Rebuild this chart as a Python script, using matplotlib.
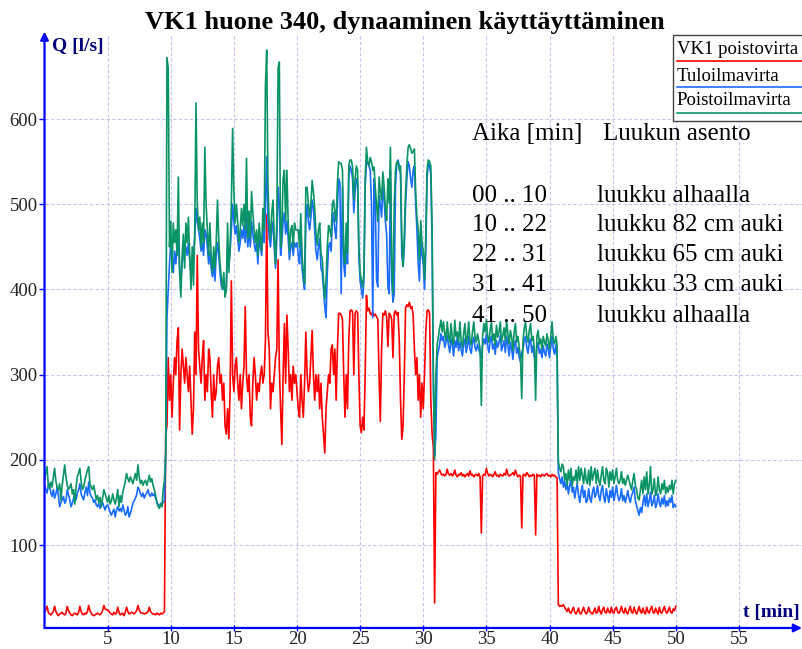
import numpy as np
import matplotlib
matplotlib.use("Agg")
import matplotlib.pyplot as plt
from matplotlib.lines import Line2D
from matplotlib.patches import Rectangle

plt.rcParams['font.family'] = ['Liberation Serif', 'DejaVu Serif']

# sample interval [min]
dt = 0.1

# VK1 poistovirta (red)
vk1 = [
    22, 24, 28, 21, 19, 18, 20, 22, 28, 22, 19, 17, 19, 20, 21, 19, 18, 20, 28, 23,
    20, 18, 17, 19, 20, 19, 18, 21, 28, 22, 19, 18, 20, 19, 22, 29, 23, 20, 18, 17,
    18, 19, 20, 19, 18, 20, 23, 29, 25, 24, 24, 22, 20, 19, 18, 21, 19, 20, 27, 21,
    18, 19, 20, 17, 21, 27, 22, 19, 20, 21, 20, 19, 21, 23, 29, 24, 21, 20, 20, 19,
    20, 20, 22, 27, 22, 20, 19, 19, 18, 20, 19, 18, 20, 19, 20, 22,
    230, 240, 320, 270,
    300, 250, 290, 320, 300, 340, 355, 235, 300, 330,
    310, 290, 320, 300, 280, 310, 270, 230, 260, 350,
    300, 440, 330, 310, 290, 320, 340, 270, 300, 280,
    330, 320, 280, 250, 300, 270, 280, 310, 320, 290,
    300, 270, 290, 240, 230, 260, 225, 280, 410, 300,
    280, 310, 320, 290, 270, 300, 260, 290, 310, 380,
    300, 280, 300, 250, 240, 290, 320, 300, 270, 290,
    280, 300, 310, 290, 300, 340, 488, 350, 330, 260,
    290, 280, 300, 320, 330, 435, 310, 260, 218, 300,
    360, 290, 370, 330, 280, 300, 270, 310, 290, 300,
    280, 260, 250, 300, 270, 250, 290, 350, 300, 280,
    290, 320, 352, 300, 270, 300, 280, 300, 260, 290,
    250, 230, 208, 260, 280, 300, 290, 330, 335, 300,
    330, 270, 330, 372, 372, 370, 365, 300, 250, 300,
    260, 340, 375, 376, 374, 300, 372, 375, 373, 300,
    240, 232, 250, 235, 300, 393, 375, 378, 372, 370,
    374, 369, 371, 368, 365, 300, 245, 330, 372, 370,
    375, 368, 333, 372, 370, 365, 320, 372, 375, 370,
    373, 340, 270, 224, 240, 300, 378, 382, 380, 385,
    378, 380, 370, 330, 300, 320, 270, 300, 250, 290,
    260, 300, 350, 375, 376, 372, 270, 230, 215, 32,
    185, 183, 186, 188, 184, 182, 183, 181, 183, 189,
    183, 182, 184, 181, 183, 188, 182, 180, 183, 182,
    185, 181, 183, 180, 182, 184, 181, 187, 182, 183,
    180, 182, 183, 181, 184, 180, 114, 181, 183, 182,
    190, 184, 181, 183, 182, 180, 183, 186, 181, 182,
    180, 183, 182, 181, 184, 182, 189, 183, 181, 182,
    183, 185, 182, 188, 183, 180, 182, 181, 120, 182,
    183, 181, 185, 183, 180, 182, 181, 183, 182, 112,
    183, 181, 182, 180, 183, 182, 181, 183, 184, 181,
    182, 180, 183, 181, 182, 180, 179,
    30, 28, 29,
    28, 30, 27, 24, 22, 26, 21, 20, 24, 27,
    21, 19, 22, 26, 20, 19, 23, 27, 22, 19,
    21, 27, 22, 20, 19, 22, 26, 20, 21, 28,
    22, 19, 24, 27, 21, 20, 26, 22, 20, 27,
    21, 20, 25, 27, 21, 20, 23, 28, 22, 20,
    26, 21, 19, 24, 28, 21, 20, 27, 22, 19,
    23, 28, 22, 20, 26, 21, 19, 27, 22, 20,
    25, 28, 21, 20, 26, 22, 19, 27, 21, 20,
    24, 28, 22, 20, 23, 27, 21, 20, 25, 23,
    28,
]

# Tuloilmavirta (blue)
tulo = [
    172, 165, 161, 170, 172, 161, 157, 165, 155, 160,
    168, 158, 145, 150, 153, 157, 149, 152, 165, 159,
    153, 145, 149, 155, 159, 153, 161, 165, 172, 160,
    156, 153, 162, 168, 158, 174, 161, 157, 155, 150,
    153, 147, 145, 149, 143, 147, 150, 145, 141, 146,
    147, 143, 138, 135, 139, 142, 133, 141, 145, 140,
    143, 139, 147, 141, 135, 137, 145, 133, 137, 143,
    149, 152, 155, 159, 168, 165, 160, 157, 161, 155,
    159, 161, 165, 159, 157, 161, 158, 160, 155, 151,
    147, 145, 149, 147, 150, 152,
    200, 367, 400, 430,
    455, 440, 420, 445, 430, 450, 460, 425, 410, 430,
    440, 445, 450, 440, 455, 435, 420, 430, 440, 460,
    495, 480, 470, 460, 445, 455, 440, 470, 465, 450,
    430, 445, 425, 415, 430, 410, 440, 455, 440, 420,
    405, 400, 410, 395, 400, 450, 430, 445, 470, 500,
    480, 465, 475, 460, 445, 455, 470, 460, 475, 455,
    490, 450, 470, 450, 480, 465, 455, 445, 455, 430,
    460, 450, 440, 470, 455, 500, 556, 480, 460, 450,
    470, 480, 450, 425, 460, 520, 500, 440, 455, 480,
    490, 465, 480, 460, 435, 450, 455, 440, 455, 450,
    455, 440, 430, 470, 425, 410, 400, 480, 500, 480,
    470, 485, 505, 495, 470, 445, 435, 450, 460, 425,
    420, 400, 380, 367, 420, 450, 455, 445, 480, 490,
    470, 460, 500, 530, 525, 395, 520, 430, 415, 460,
    430, 530, 545, 540, 530, 490, 515, 530, 525, 440,
    410, 400, 390, 410, 520, 550, 548, 545, 540, 500,
    367, 530, 505, 411, 403, 510, 500, 485, 520, 505,
    480, 465, 403, 395, 540, 410, 385, 395, 520, 548,
    552, 545, 535, 440, 427, 450, 500, 530, 550, 545,
    530, 520, 540, 545, 500, 470, 430, 410, 460, 440,
    430, 400, 445, 530, 548, 545, 535, 455, 290, 205,
    230, 320, 328, 336, 348, 340, 345, 332, 338, 346,
    334, 326, 342, 335, 322, 340, 332, 345, 328, 338,
    330, 322, 336, 342, 326, 334, 345, 330, 325, 338,
    344, 332, 328, 336, 330, 325, 320, 335, 342, 336,
    348, 334, 326, 340, 345, 330, 336, 324, 340, 332,
    338, 346, 328, 334, 340, 326, 345, 335, 322, 338,
    330, 318, 334, 340, 325, 332, 320, 315, 326, 330,
    340, 345, 332, 325, 338, 342, 326, 334, 320, 318,
    332, 338, 325, 330, 320, 334, 326, 322, 336, 330,
    320, 332, 345, 330, 324, 335, 320,
    185, 178, 172,
    180, 168, 175, 165, 172, 160, 170, 176, 162, 168,
    155, 165, 172, 158, 150, 162, 170, 156, 164, 150,
    152, 166, 155, 150, 162, 168, 156, 160, 170, 158,
    152, 164, 170, 156, 150, 166, 158, 150, 164, 156,
    168, 152, 160, 170, 158, 152, 156, 166, 152, 158,
    150, 156, 164, 155, 150, 158, 162, 168, 152, 146,
    140, 135, 144, 138, 150, 158, 146, 160, 145, 152,
    162, 146, 150, 158, 144, 148, 160, 150, 145, 155,
    148, 158, 145, 152, 146, 155, 150, 158, 144, 148,
    145,
]

# Poistoilmavirta (green)
poisto = [
    176, 185, 192, 170, 166, 174, 168, 180, 190, 175,
    168, 165, 172, 153, 170, 182, 194, 180, 170, 165,
    168, 172, 160, 165, 148, 168, 180, 185, 190, 175,
    165, 168, 176, 182, 188, 192, 172, 168, 165, 170,
    162, 153, 158, 150, 156, 145, 155, 165, 160, 155,
    150, 158, 148, 152, 160, 153, 148, 155, 165, 145,
    158, 150, 162, 168, 175, 184, 178, 174, 180, 176,
    172, 178, 184, 176, 194, 180, 172, 176, 170, 174,
    176, 170, 175, 182, 174, 178, 170, 165, 158, 150,
    145, 143, 148, 145, 165, 176,
    210, 672, 660, 450,
    480, 420, 478, 455, 470, 440, 532, 420, 391, 440,
    465, 425, 478, 455, 485, 440, 400, 450, 405, 470,
    619, 500, 470, 485, 450, 478, 455, 567, 500, 470,
    440, 478, 440, 420, 450, 425, 455, 505, 460, 430,
    415, 400, 420, 391, 400, 478, 420, 450, 500, 589,
    515, 478, 500, 480, 455, 470, 495, 475, 500, 470,
    554, 460, 492, 460, 515, 490, 470, 455, 470, 440,
    478, 460, 445, 495, 470, 640, 681, 520, 478, 460,
    490, 505, 460, 430, 480, 660, 667, 450, 470, 530,
    540, 480, 540, 478, 445, 470, 475, 450, 478, 470,
    470, 470, 450, 489, 440, 420, 407, 520, 520, 500,
    485, 501, 528, 515, 495, 466, 452, 470, 478, 442,
    436, 410, 388, 411, 450, 475, 470, 462, 500, 505,
    490, 480, 525, 550, 548, 548, 540, 440, 430, 478,
    442, 545, 552, 552, 544, 505, 530, 545, 540, 450,
    420, 410, 403, 420, 530, 567, 550, 545, 555, 550,
    540, 544, 520, 500, 480, 532, 515, 505, 538, 521,
    495, 481, 530, 501, 567, 430, 395, 501, 540, 550,
    550, 540, 545, 460, 427, 462, 515, 545, 567, 570,
    565, 560, 562, 565, 513, 485, 470, 434, 481, 455,
    445, 411, 462, 540, 552, 550, 545, 470, 300, 200,
    300, 335, 345, 355, 364, 350, 362, 348, 340, 362,
    345, 338, 360, 342, 335, 364, 345, 350, 338, 362,
    340, 332, 348, 360, 336, 345, 362, 340, 335, 350,
    362, 345, 338, 348, 340, 330, 264, 345, 360, 350,
    365, 345, 338, 352, 362, 340, 348, 335, 358, 344,
    350, 362, 338, 346, 355, 340, 364, 348, 336, 352,
    344, 328, 350, 360, 338, 345, 332, 320, 272, 340,
    355, 362, 345, 338, 352, 360, 340, 345, 330, 270,
    345, 352, 336, 342, 330, 345, 338, 334, 348, 340,
    330, 345, 362, 340, 336, 345, 335,
    198, 190, 186,
    195, 192, 176, 184, 170, 188, 176, 190, 170, 180,
    176, 188, 172, 192, 176, 190, 182, 172, 190, 176,
    172, 188, 170, 192, 176, 184, 190, 172, 188, 176,
    170, 182, 192, 176, 172, 190, 185, 168, 186, 176,
    188, 172, 180, 190, 176, 172, 176, 186, 172, 178,
    170, 176, 182, 176, 170, 165, 176, 184, 170, 165,
    155, 153, 165, 176, 160, 180, 165, 186, 160, 170,
    192, 160, 165, 178, 158, 162, 180, 165, 160, 172,
    165, 176, 160, 168, 162, 170, 165, 176, 160, 172,
    176,
]

series_names = ['VK1 poistovirta', 'Tuloilmavirta', 'Poistoilmavirta']
series_colors = ['#ff0000', '#1a6cff', '#0a9466']

x_ticks = [5, 10, 15, 20, 25, 30, 35, 40, 45, 50, 55]
y_ticks = [100, 200, 300, 400, 500, 600]

table_times = ['00 .. 10', '10 .. 22', '22 .. 31', '31 .. 41', '41 .. 50']
table_pos = ['luukku alhaalla', 'luukku 82 cm auki', 'luukku 65 cm auki',
             'luukku 33 cm auki', 'luukku alhaalla']

t = np.arange(len(vk1)) * dt

fig = plt.figure(figsize=(8.02, 6.49), dpi=100)
ax = fig.add_axes([0.0555, 0.0324, 0.9445, 0.9153])

for y, c in zip([vk1, tulo, poisto], series_colors):
    ax.plot(t[:len(y)], y, color=c, lw=1.2)

ax.set_xlim(0, 60)
ax.set_ylim(2.6, 700)
ax.set_xticks(x_ticks)
ax.set_yticks(y_ticks)
ax.grid(True, color='#c4c4f4', lw=0.8, ls=(0, (3, 2)))
ax.set_axisbelow(True)
for s in ax.spines.values():
    s.set_visible(False)
ax.tick_params(axis='both', colors='blue', labelcolor='#222222', labelsize=13.5,
               width=1)
ax.tick_params(axis='y', direction='out', length=4, pad=1)
ax.tick_params(axis='x', direction='inout', length=4, pad=0)

# axis arrows
arrow = dict(arrowstyle='-|>', color='blue', lw=1.6, mutation_scale=12, shrinkA=0, shrinkB=0)
ax.annotate('', xy=(0, 1.004), xytext=(0, 0), xycoords='axes fraction', arrowprops=arrow,
            annotation_clip=False)
ax.annotate('', xy=(1.0, 0), xytext=(0, 0), xycoords='axes fraction', arrowprops=arrow,
            annotation_clip=False)

fig.text(0.065, 0.929, 'Q [l/s]', color='#00007a', fontsize=14, fontweight='bold',
         ha='left', va='center')
fig.text(0.997, 0.057, 't [min]', color='#00007a', fontsize=14, fontweight='bold',
         ha='right', va='center')

fig.text(0.505, 0.966, 'VK1 huone 340, dynaaminen käyttäyttäminen', fontsize=19,
         fontweight='bold', ha='center', va='center')

# legend box
fig.patches.append(Rectangle((0.839, 0.8136), 0.2, 0.133, transform=fig.transFigure,
                             facecolor='white', edgecolor='#444444', lw=1, zorder=5))
leg_text_y = [0.924, 0.882, 0.845]
leg_line_y = [0.906, 0.866, 0.826]
for name, c, ty, ly in zip(series_names, series_colors, leg_text_y, leg_line_y):
    fig.text(0.844, ty, name, fontsize=13.5, ha='left', va='center', zorder=6)
    fig.lines.append(Line2D([0.844, 1.0], [ly, ly], transform=fig.transFigure,
                            color=c, lw=1.2, zorder=6))

# table of hatch positions
fig.text(0.5885, 1 - 134 / 649, 'Aika [min]', fontsize=18, ha='left', va='center')
fig.text(0.752, 1 - 134 / 649, 'Luukun asento', fontsize=18, ha='left', va='center')
row_y = [196, 225, 255, 285, 316]
for tt, pp, ry in zip(table_times, table_pos, row_y):
    fig.text(0.5885, 1 - ry / 649, tt, fontsize=18, ha='left', va='center')
    fig.text(0.744, 1 - ry / 649, pp, fontsize=18, ha='left', va='center')

fig.savefig('out.png', dpi=100)
